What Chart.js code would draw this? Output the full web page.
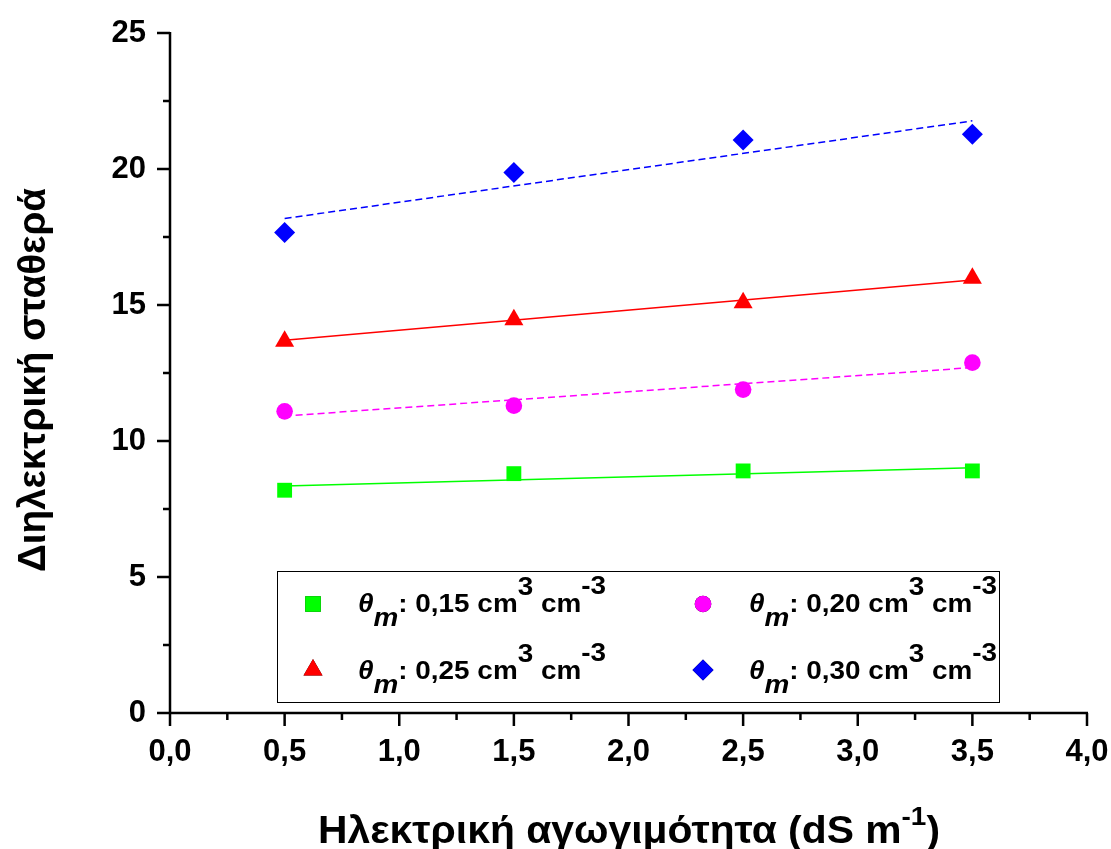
<!DOCTYPE html>
<html>
<head>
<meta charset="utf-8">
<script src="https://cdn.jsdelivr.net/npm/chart.js@4.4.1/dist/chart.umd.min.js"></script>
<style>
  html, body { margin: 0; padding: 0; background: #fff; }
  #wrap { width: 1111px; height: 849px; }
</style>
</head>
<body>
<div id="wrap"><canvas id="chart" width="1111" height="849"></canvas></div>
<script>
// data
const xValues = [0.5, 1.5, 2.5, 3.5];
const theta15 = [8.19, 8.80, 8.90, 8.90];
const theta20 = [11.09, 11.30, 11.89, 12.88];
const theta25 = [13.67, 14.46, 15.08, 15.98];
const theta30 = [17.67, 19.87, 21.07, 21.28];

// fitted lines, value at x = 0.5 and x = 3.5
const fitX = [0.5, 3.5];
const fit15 = [8.35, 9.02];
const fit20 = [10.92, 12.70];
const fit25 = [13.70, 15.92];
const fit30 = [18.18, 21.77];

const legendLabels = ["0,15", "0,20", "0,25", "0,30"];
const xAxisTitle = "Ηλεκτρική αγωγιμότητα (dS m";
const yAxisTitle = "Διηλεκτρική σταθερά";

const colors = ["#00ff00", "#ff00ff", "#ff0000", "#0000ff"];
const shapes = ["rect", "circle", "triangle", "rectRot"];
const radii = [10.5, 8.3, 11, 10.5];
const fitDash = [[], [7, 4], [], [7, 4]];

function pts(xs, ys) {
  return xs.map((x, i) => ({ x: x, y: ys[i] }));
}

const series = [theta15, theta20, theta25, theta30];
const fits = [fit15, fit20, fit25, fit30];

let datasets = [];
fits.forEach((f, i) => {
  datasets.push({
    type: "line",
    data: pts(fitX, f),
    borderColor: colors[i],
    borderWidth: 1.5,
    borderDash: fitDash[i],
    pointRadius: 0,
    fill: false
  });
});
series.forEach((s, i) => {
  datasets.push({
    data: pts(xValues, s),
    backgroundColor: colors[i],
    borderColor: colors[i],
    borderWidth: 0,
    pointStyle: shapes[i],
    pointRadius: radii[i],
    pointHoverRadius: radii[i],
    showLine: false
  });
});

const fontFam = "'Liberation Sans', Arial, sans-serif";

// axes lines + major/minor ticks, titles and legend box
const decor = {
  id: "decor",
  afterDraw(chart) {
    const ctx = chart.ctx;
    const xs = chart.scales.x, ys = chart.scales.y;
    const x0 = xs.getPixelForValue(0), x4 = xs.getPixelForValue(4);
    const y0 = ys.getPixelForValue(0), y25 = ys.getPixelForValue(25);
    ctx.save();
    ctx.strokeStyle = "#000";
    ctx.lineWidth = 2.5;
    ctx.lineCap = "butt";
    ctx.beginPath();
    ctx.moveTo(x0, y25 - 1); ctx.lineTo(x0, y0);
    ctx.lineTo(x4 + 1, y0);
    for (let v = 0; v <= 25.001; v += 2.5) {
      const p = ys.getPixelForValue(v);
      const len = (Math.round(v * 2) % 10 === 0) ? 13 : 7;
      ctx.moveTo(x0, p); ctx.lineTo(x0 - len, p);
    }
    for (let v = 0; v <= 4.001; v += 0.25) {
      const p = xs.getPixelForValue(v);
      const len = (Math.round(v * 4) % 2 === 0) ? 13 : 7;
      ctx.moveTo(p, y0); ctx.lineTo(p, y0 + len);
    }
    ctx.stroke();

    // axis titles
    ctx.fillStyle = "#000";
    ctx.font = "bold 38px " + fontFam;
    ctx.textBaseline = "alphabetic";
    const wMain = ctx.measureText(xAxisTitle).width;
    ctx.font = "bold 26px " + fontFam;
    const wSup = ctx.measureText("-1").width;
    ctx.font = "bold 38px " + fontFam;
    const wPar = ctx.measureText(")").width;
    const sx = 622 / (wMain + wSup + wPar);
    ctx.save();
    ctx.translate(318, 843);
    ctx.scale(sx, 1);
    ctx.fillText(xAxisTitle, 0, 0);
    ctx.font = "bold 26px " + fontFam;
    ctx.fillText("-1", wMain, -18);
    ctx.font = "bold 38px " + fontFam;
    ctx.fillText(")", wMain + wSup, 0);
    ctx.restore();

    ctx.save();
    ctx.font = "bold 38px " + fontFam;
    const wy = ctx.measureText(yAxisTitle).width;
    ctx.translate(45, 572);
    ctx.rotate(-Math.PI / 2);
    ctx.scale(384 / wy, 1);
    ctx.fillText(yAxisTitle, 0, 0);
    ctx.restore();

    // legend box
    const box = { l: 277, t: 571, r: 999, b: 702 };
    ctx.lineWidth = 1;
    ctx.strokeRect(box.l + 0.5, box.t + 0.5, box.r - box.l, box.b - box.t);
    const cols = [313, 703];
    const textX = [358, 749];
    const rows = [604, 670];
    const base = [612, 679];
    [0, 1, 2, 3].forEach((k) => {
      const c = k % 2, r = Math.floor(k / 2);
      Chart.helpers.drawPoint(ctx, {
        pointStyle: shapes[k], radius: radii[k] * (k === 0 ? 1.05 : 1), rotation: 0, borderWidth: 0
      }, cols[c], rows[r]);
      ctx.fillStyle = colors[k];
      ctx.fill();
      ctx.fillStyle = "#000";
      const it = "italic bold 26px " + fontFam, bd = "bold 26px " + fontFam;
      const parts = [
        [it, "\u03b8", 0], [it, "m", 14], [bd, ": " + legendLabels[k] + " cm", 0],
        [bd, "3", -17], [bd, " cm", 0], [bd, "-3", -18]
      ];
      let w = 0;
      parts.forEach((p) => { ctx.font = p[0]; w += ctx.measureText(p[1]).width; });
      ctx.save();
      ctx.translate(textX[c], base[r]);
      ctx.scale(248 / w, 1);
      let x = 0;
      parts.forEach((p) => {
        ctx.font = p[0];
        ctx.fillText(p[1], x, p[2]);
        x += ctx.measureText(p[1]).width;
      });
      ctx.restore();
    });
    ctx.restore();
  }
};

new Chart(document.getElementById("chart"), {
  type: "scatter",
  data: { datasets: datasets },
  options: {
    responsive: false,
    animation: false,
    layout: { padding: { top: 33, right: 24, left: 0, bottom: 0 } },
    plugins: { legend: { display: false }, tooltip: { enabled: false } },
    scales: {
      x: {
        type: "linear", min: 0, max: 4,
        grid: { display: false },
        border: { display: false },
        afterFit: (s) => { s.height = 136; s.paddingLeft = 0; s.paddingRight = 0; },
        ticks: {
          stepSize: 0.5,
          padding: 13,
          color: "#000",
          font: { family: fontFam, size: 31, weight: "bold" },
          maxRotation: 0,
          callback: (v) => v.toFixed(1).replace(".", ",")
        }
      },
      y: {
        type: "linear", min: 0, max: 25,
        grid: { display: false },
        border: { display: false },
        afterFit: (s) => { s.width = 170; s.paddingTop = 0; s.paddingBottom = 0; },
        ticks: {
          stepSize: 5,
          padding: 16,
          color: "#000",
          font: { family: fontFam, size: 31, weight: "bold" },
          callback: (v) => String(v)
        }
      }
    }
  },
  plugins: [decor]
});
</script>
</body>
</html>
